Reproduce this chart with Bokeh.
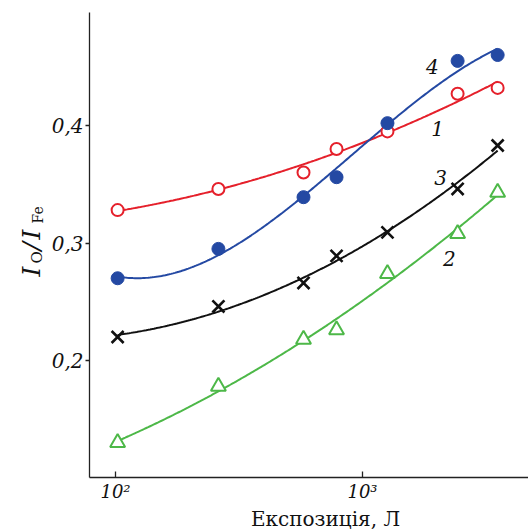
import numpy as np
from bokeh.plotting import figure
from bokeh.models import FixedTicker, Label, Range1d
from bokeh.embed import file_html
from bokeh.resources import INLINE

# exposure (L)
exposure = [102, 261, 577, 785, 1262, 2427, 3525]
# curve 1 (red, open circles)
s1 = [0.328, 0.346, 0.360, 0.380, 0.395, 0.427, 0.432]
# curve 2 (green, open triangles)
s2 = [0.130, 0.178, 0.218, 0.226, 0.274, 0.308, 0.343]
# curve 3 (black, crosses)
s3 = [0.220, 0.246, 0.266, 0.289, 0.309, 0.346, 0.383]
# curve 4 (blue, filled circles)
s4 = [0.270, 0.295, 0.339, 0.356, 0.402, 0.455, 0.460]

x_ticks = [100, 1000]
x_tick_labels = ["10²", "10³"]
y_ticks = [0.2, 0.3, 0.4]
y_tick_labels = ["0,2", "0,3", "0,4"]
curve_names = ["1", "2", "3", "4"]
name_pos_x = [2014, 2249, 2070, 1919]
name_pos_y = [0.3974, 0.2868, 0.3557, 0.450]
x_title = "Експозиція, Л"

# axis extents (data units)
x_axis_bounds = (78.5, 4700)
y_axis_bounds = (0.1004, 0.4962)

RED = "#e5202b"
GREEN = "#4db848"
BLACK = "#111111"
BLUE = "#2449a3"
FONT = "DejaVu Serif"
AXC = "#222222"

W, H = 528, 532
PX_PER_DECADE = 247.0
X100_PX = 115.0
PX_PER_UNIT = 1175.0
Y04_PX = 125.0

x_lo = 10 ** (2 - X100_PX / PX_PER_DECADE)
x_hi = 10 ** (2 + (W - X100_PX) / PX_PER_DECADE)
y_hi = 0.4 + Y04_PX / PX_PER_UNIT
y_lo = 0.4 - (H - Y04_PX) / PX_PER_UNIT

p = figure(width=W, height=H, x_axis_type="log",
           x_range=Range1d(x_lo, x_hi), y_range=Range1d(y_lo, y_hi),
           output_backend="svg", toolbar_location=None,
           min_border=0, min_border_left=0, min_border_right=0,
           min_border_top=0, min_border_bottom=0)
p.outline_line_color = None
p.grid.visible = False
p.background_fill_color = "white"

for ax in (p.xaxis[0], p.yaxis[0]):
    ax.axis_line_color = AXC
    ax.axis_line_width = 1.3
    ax.major_tick_line_color = AXC
    ax.major_tick_line_width = 1.3
    ax.minor_tick_line_color = None
    ax.major_label_text_font = FONT
    ax.major_label_text_font_style = "italic"
    ax.major_label_text_color = "#111111"

p.xaxis.fixed_location = y_axis_bounds[0]
p.xaxis.bounds = x_axis_bounds
p.xaxis.ticker = FixedTicker(ticks=x_ticks)
p.xaxis.major_label_overrides = {t: l for t, l in zip(x_ticks, x_tick_labels)}
p.xaxis.major_tick_in = 6
p.xaxis.major_tick_out = 0
p.xaxis.major_label_text_font_size = "18px"
p.xaxis.major_label_standoff = 3

p.yaxis.fixed_location = x_axis_bounds[0]
p.yaxis.bounds = y_axis_bounds
p.yaxis.ticker = FixedTicker(ticks=y_ticks)
p.yaxis.major_label_overrides = {t: l for t, l in zip(y_ticks, y_tick_labels)}
p.yaxis.major_tick_in = 0
p.yaxis.major_tick_out = 4
p.yaxis.major_label_text_font_size = "20px"
p.yaxis.major_label_standoff = 2

lx = np.log10(np.array(exposure, dtype=float))
xs = np.linspace(lx[0], lx[-1], 200)


def fit(vals, deg):
    c = np.polyfit(lx, np.array(vals), deg)
    return 10 ** xs, np.polyval(c, xs)


fx, fy = fit(s1, 2)
p.line(fx, fy, line_color=RED, line_width=2)
fx, fy = fit(s4, 3)
p.line(fx, fy, line_color=BLUE, line_width=2)
fx, fy = fit(s3, 2)
p.line(fx, fy, line_color=BLACK, line_width=2)
fx, fy = fit(s2, 2)
p.line(fx, fy, line_color=GREEN, line_width=2)

p.scatter(exposure, s1, marker="circle", size=12, fill_color="white",
          line_color=RED, line_width=2)
p.scatter(exposure, s4, marker="circle", size=13, fill_color=BLUE,
          line_color=BLUE, line_width=1)
p.scatter(exposure, s3, marker="x", size=17, line_color=BLACK, line_width=2.6)
p.scatter(exposure, s2, marker="triangle", size=15, fill_color="white",
          line_color=GREEN, line_width=2)

for n, x, y in zip(curve_names, name_pos_x, name_pos_y):
    p.add_layout(Label(x=x, y=y, text=n, text_font=FONT,
                       text_font_style="italic", text_font_size="20px",
                       text_align="center", text_baseline="middle",
                       text_color="#111111"))

# x-axis title (screen units within the full-canvas frame)
p.add_layout(Label(x=325, y=14, x_units="screen", y_units="screen",
                   text=x_title, text_font=FONT, text_font_size="20px",
                   text_align="center", text_baseline="alphabetic",
                   text_color="#111111"))

# y-axis title I_O / I_Fe built from pieces
pieces = [
    ("I", 31, 256, "25px", "italic"),
    ("O", 36, 269, "15px", "normal"),
    ("/", 31, 282, "25px", "italic"),
    ("I", 31, 293, "25px", "italic"),
    ("Fe", 37, 309, "14px", "normal"),
]
for t, x, y, fs, st in pieces:
    p.add_layout(Label(x=x, y=y, x_units="screen", y_units="screen", text=t,
                       angle=np.pi / 2, text_font=FONT, text_font_style=st,
                       text_font_size=fs, text_align="left",
                       text_baseline="alphabetic", text_color="#111111"))

open("out.html", "w").write(file_html(p, INLINE))
